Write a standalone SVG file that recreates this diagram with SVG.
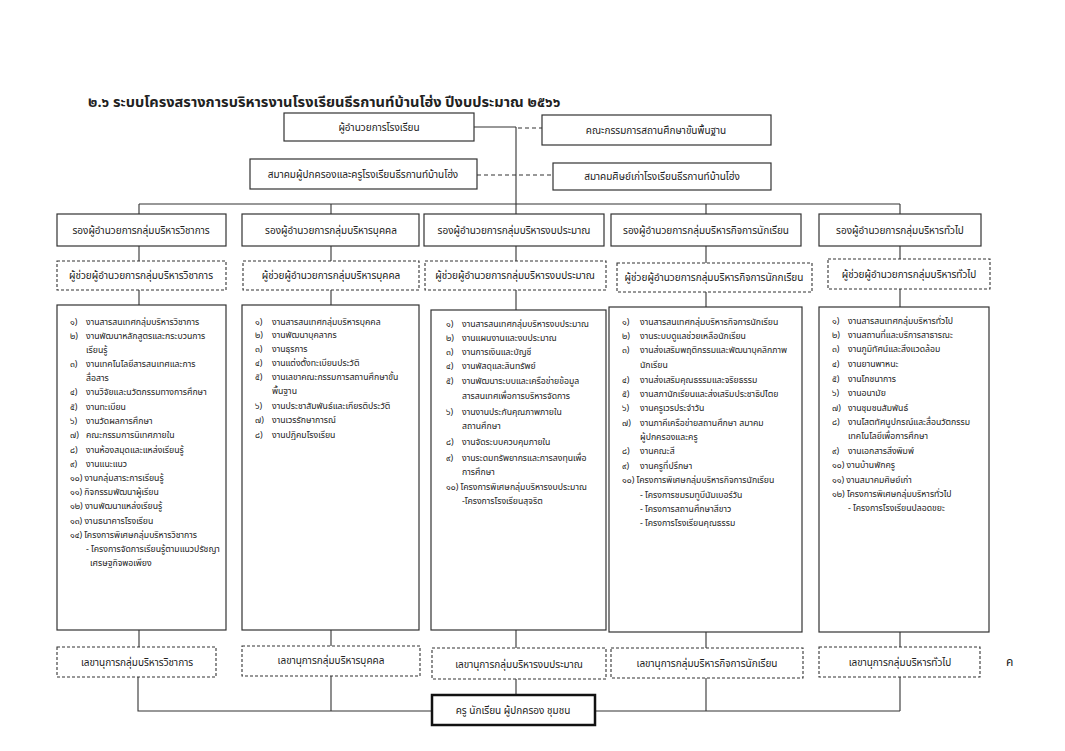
<svg xmlns="http://www.w3.org/2000/svg" width="1065" height="751" viewBox="0 0 1065 751">
<style>
text{font-family:"Noto Sans Thai","DejaVu Sans","Noto Sans",sans-serif;fill:#222}
.box{fill:#fff;stroke:#333;stroke-width:1.2}
.dbox{fill:#fff;stroke:#333;stroke-width:1.1;stroke-dasharray:3,2}
.thick{fill:#fff;stroke:#111;stroke-width:2.5}
.h{font-size:10px;text-anchor:middle}
.l{font-size:8.7px}
.ln{stroke:#333;stroke-width:1.1;fill:none}
.dl{stroke:#333;stroke-width:1.1;fill:none;stroke-dasharray:4,3}
</style>
<rect width="1065" height="751" fill="#fff"/>
<text x="88" y="107" style="font-size:14.6px;font-weight:bold">๒.๖ ระบบโครงสรางการบริหารงานโรงเรียนธีรกานท์บ้านโฮ่ง ปีงบประมาณ ๒๕๖๖</text>

<g id="connectors">
<polyline class="ln" points="474,127 516,127"/>
<line class="dl" x1="518" y1="128" x2="542" y2="128"/>
<line class="dl" x1="477" y1="175" x2="553" y2="175"/>
<line class="ln" x1="516" y1="127" x2="516" y2="204"/>
<line class="ln" x1="139" y1="204" x2="900" y2="204"/>
<path class="ln" d="M139,204V214M331,204V214M516,204V214M706,204V214M900,204V214"/>
<path class="ln" d="M139,246V261M139,290V305M139,630V647"/>
<path class="ln" d="M331,246V261M331,290V305M331,630V646"/>
<path class="ln" d="M516,246V261M516,290V310M516,630V648"/>
<path class="ln" d="M706,246V263M706,292V307M706,632V648"/>
<path class="ln" d="M900,246V259M900,289V307M900,632V647"/>
<path class="ln" d="M138,677V711H432M331,676V711M516,679V695M595,711H900M706,678V711M900,677V711"/>
</g>

<g id="director"><rect class="box" x="284" y="113" width="190" height="28"/><text class="h" x="379" y="131">ผู้อำนวยการโรงเรียน</text></g>
<g id="board"><rect class="box" x="542" y="115" width="229" height="30"/><text class="h" x="656" y="134">คณะกรรมการสถานศึกษาขั้นพื้นฐาน</text></g>
<g id="pta"><rect class="box" x="250" y="159" width="227" height="30"/><text class="h" x="363" y="178">สมาคมผู้ปกครองและครูโรงเรียนธีรกานท์บ้านโฮ่ง</text></g>
<g id="alumni"><rect class="box" x="553" y="163" width="218" height="27"/><text class="h" x="662" y="180">สมาคมศิษย์เก่าโรงเรียนธีรกานท์บ้านโฮ่ง</text></g>

<g id="c1-head"><rect class="box" x="57" y="214" width="169" height="32"/><text class="h" x="141" y="234">รองผู้อำนวยการกลุ่มบริหารวิชาการ</text></g>
<g id="c2-head"><rect class="box" x="242" y="214" width="177" height="32"/><text class="h" x="331" y="234">รองผู้อำนวยการกลุ่มบริหารบุคคล</text></g>
<g id="c3-head"><rect class="box" x="424" y="214" width="180" height="32"/><text class="h" x="514" y="234">รองผู้อำนวยการกลุ่มบริหารงบประมาณ</text></g>
<g id="c4-head"><rect class="box" x="611" y="214" width="190" height="32"/><text class="h" x="706" y="234">รองผู้อำนวยการกลุ่มบริหารกิจการนักเรียน</text></g>
<g id="c5-head"><rect class="box" x="819" y="214" width="162" height="32"/><text class="h" x="900" y="234">รองผู้อำนวยการกลุ่มบริหารทั่วไป</text></g>

<g id="c1-asst"><rect class="dbox" x="57" y="261" width="169" height="29"/><text class="h" x="141" y="279">ผู้ช่วยผู้อำนวยการกลุ่มบริหารวิชาการ</text></g>
<g id="c2-asst"><rect class="dbox" x="243" y="261" width="176" height="29"/><text class="h" x="331" y="279">ผู้ช่วยผู้อำนวยการกลุ่มบริหารบุคคล</text></g>
<g id="c3-asst"><rect class="dbox" x="425" y="261" width="181" height="29"/><text class="h" x="515" y="279">ผู้ช่วยผู้อำนวยการกลุ่มบริหารงบประมาณ</text></g>
<g id="c4-asst"><rect class="dbox" x="617" y="263" width="195" height="29"/><text class="h" x="714" y="281">ผู้ช่วยผู้อำนวยการกลุ่มบริหารกิจการนักกเรียน</text></g>
<g id="c5-asst"><rect class="dbox" x="828" y="259" width="162" height="30"/><text class="h" x="909" y="278">ผู้ช่วยผู้อำนวยการกลุ่มบริหารทั่วไป</text></g>

<g id="c1-list"><rect class="box" x="57" y="305" width="169" height="325"/>
<g class="l">
<text x="70" y="325">๑)</text><text x="86" y="325">งานสารสนเทศกลุ่มบริหารวิชาการ</text>
<text x="70" y="339">๒)</text><text x="86" y="339">งานพัฒนาหลักสูตรและกระบวนการ</text>
<text x="86" y="353">เรียนรู้</text>
<text x="70" y="367">๓)</text><text x="86" y="367">งานเทคโนโลยีสารสนเทศและการ</text>
<text x="86" y="381">สื่อสาร</text>
<text x="70" y="395">๔)</text><text x="86" y="395">งานวิจัยและนวัตกรรมทางการศึกษา</text>
<text x="70" y="410">๕)</text><text x="86" y="410">งานทะเบียน</text>
<text x="70" y="424">๖)</text><text x="86" y="424">งานวัดผลการศึกษา</text>
<text x="70" y="438">๗)</text><text x="86" y="438">คณะกรรมการนิเทศภายใน</text>
<text x="70" y="453">๘)</text><text x="86" y="453">งานห้องสมุดและแหล่งเรียนรู้</text>
<text x="70" y="467">๙)</text><text x="86" y="467">งานแนะแนว</text>
<text x="70" y="481">๑๐) งานกลุ่มสาระการเรียนรู้</text>
<text x="70" y="495">๑๑) กิจกรรมพัฒนาผู้เรียน</text>
<text x="70" y="509">๑๒) งานพัฒนาแหล่งเรียนรู้</text>
<text x="70" y="524">๑๓) งานธนาคารโรงเรียน</text>
<text x="70" y="538">๑๔) โครงการพิเศษกลุ่มบริหารวิชาการ</text>
<text x="86" y="552">- โครงการจัดการเรียนรู้ตามแนวปรัชญา</text>
<text x="90" y="566">เศรษฐกิจพอเพียง</text>
</g></g>

<g id="c2-list"><rect class="box" x="242" y="305" width="177" height="325"/>
<g class="l">
<text x="255" y="325">๑)</text><text x="272" y="325">งานสารสนเทศกลุ่มบริหารบุคคล</text>
<text x="255" y="338">๒)</text><text x="272" y="338">งานพัฒนาบุคลากร</text>
<text x="255" y="352">๓)</text><text x="272" y="352">งานธุรการ</text>
<text x="255" y="366">๔)</text><text x="272" y="366">งานแต่งตั้งทะเบียนประวัติ</text>
<text x="255" y="380">๕)</text><text x="272" y="380">งานเลขาคณะกรรมการสถานศึกษาขั้น</text>
<text x="272" y="394">พื้นฐาน</text>
<text x="255" y="409">๖)</text><text x="272" y="409">งานประชาสัมพันธ์และเกียรติประวัติ</text>
<text x="255" y="423">๗)</text><text x="272" y="423">งานเวรรักษาการณ์</text>
<text x="255" y="438">๘)</text><text x="272" y="438">งานปฏิคมโรงเรียน</text>
</g></g>

<g id="c3-list"><rect class="box" x="431" y="310" width="175" height="320"/>
<g class="l">
<text x="446" y="327">๑)</text><text x="462" y="327">งานสารสนเทศกลุ่มบริหารงบประมาณ</text>
<text x="446" y="341">๒)</text><text x="462" y="341">งานแผนงานและงบประมาณ</text>
<text x="446" y="355">๓)</text><text x="462" y="355">งานการเงินและบัญชี</text>
<text x="446" y="369">๔)</text><text x="462" y="369">งานพัสดุและสินทรัพย์</text>
<text x="446" y="384">๕)</text><text x="462" y="384">งานพัฒนาระบบและเครือข่ายข้อมูล</text>
<text x="462" y="399">สารสนเทศเพื่อการบริหารจัดการ</text>
<text x="446" y="415">๖)</text><text x="462" y="415">งานงานประกันคุณภาพภายใน</text>
<text x="462" y="429">สถานศึกษา</text>
<text x="446" y="445">๘)</text><text x="462" y="445">งานจัดระบบควบคุมภายใน</text>
<text x="446" y="461">๙)</text><text x="462" y="461">งานระดมทรัพยากรและการลงทุนเพื่อ</text>
<text x="462" y="475">การศึกษา</text>
<text x="446" y="490">๑๐) โครงการพิเศษกลุ่มบริหารงบประมาณ</text>
<text x="462" y="504">-โครงการโรงเรียนสุจริต</text>
</g></g>

<g id="c4-list"><rect class="box" x="609" y="307" width="193" height="325"/>
<g class="l">
<text x="622" y="325">๑)</text><text x="640" y="325">งานสารสนเทศกลุ่มบริหารกิจการนักเรียน</text>
<text x="622" y="339">๒)</text><text x="640" y="339">งานระบบดูแลช่วยเหลือนักเรียน</text>
<text x="622" y="353">๓)</text><text x="640" y="353">งานส่งเสริมพฤติกรรมและพัฒนาบุคลิกภาพ</text>
<text x="640" y="368">นักเรียน</text>
<text x="622" y="383">๔)</text><text x="640" y="383">งานส่งเสริมคุณธรรมและจริยธรรม</text>
<text x="622" y="397">๕)</text><text x="640" y="397">งานสภานักเรียนและส่งเสริมประชาธิปไตย</text>
<text x="622" y="411">๖)</text><text x="640" y="411">งานครูเวรประจำวัน</text>
<text x="622" y="426">๗)</text><text x="640" y="426">งานภาคีเครือข่ายสถานศึกษา สมาคม</text>
<text x="640" y="440">ผู้ปกครองและครู</text>
<text x="622" y="454">๘)</text><text x="640" y="454">งานคณะสี</text>
<text x="622" y="469">๙)</text><text x="640" y="469">งานครูที่ปรึกษา</text>
<text x="622" y="483">๑๐) โครงการพิเศษกลุ่มบริหารกิจการนักเรียน</text>
<text x="640" y="498">- โครงการชมรมทูบีนัมเบอร์วัน</text>
<text x="640" y="512">- โครงการสถานศึกษาสีขาว</text>
<text x="640" y="526">- โครงการโรงเรียนคุณธรรม</text>
</g></g>

<g id="c5-list"><rect class="box" x="819" y="307" width="170" height="325"/>
<g class="l">
<text x="832" y="324">๑)</text><text x="848" y="324">งานสารสนเทศกลุ่มบริหารทั่วไป</text>
<text x="832" y="338">๒)</text><text x="848" y="338">งานสถานที่และบริการสาธารณะ</text>
<text x="832" y="352">๓)</text><text x="848" y="352">งานภูมิทัศน์และสิ่งแวดล้อม</text>
<text x="832" y="367">๔)</text><text x="848" y="367">งานยานพาหนะ</text>
<text x="832" y="382">๕)</text><text x="848" y="382">งานโภชนาการ</text>
<text x="832" y="396">๖)</text><text x="848" y="396">งานอนามัย</text>
<text x="832" y="411">๗)</text><text x="848" y="411">งานชุมชนสัมพันธ์</text>
<text x="832" y="425">๘)</text><text x="848" y="425">งานโสตทัศนูปกรณ์และสื่อนวัตกรรม</text>
<text x="848" y="439">เทคโนโลยีเพื่อการศึกษา</text>
<text x="832" y="454">๙)</text><text x="848" y="454">งานเอกสารสิ่งพิมพ์</text>
<text x="832" y="468">๑๐) งานบ้านพักครู</text>
<text x="832" y="483">๑๑) งานสมาคมศิษย์เก่า</text>
<text x="832" y="497">๑๒) โครงการพิเศษกลุ่มบริหารทั่วไป</text>
<text x="848" y="511">- โครงการโรงเรียนปลอดขยะ</text>
</g></g>

<g id="c1-sec"><rect class="dbox" x="57" y="647" width="159" height="30"/><text class="h" x="137" y="666">เลขานุการกลุ่มบริหารวิชาการ</text></g>
<g id="c2-sec"><rect class="dbox" x="242" y="646" width="178" height="30"/><text class="h" x="331" y="664">เลขานุการกลุ่มบริหารบุคคล</text></g>
<g id="c3-sec"><rect class="dbox" x="432" y="648" width="174" height="31"/><text class="h" x="519" y="668">เลขานุการกลุ่มบริหารงบประมาณ</text></g>
<g id="c4-sec"><rect class="dbox" x="611" y="648" width="192" height="30"/><text class="h" x="707" y="667">เลขานุการกลุ่มบริหารกิจการนักเรียน</text></g>
<g id="c5-sec"><rect class="dbox" x="819" y="647" width="161" height="30"/><text class="h" x="900" y="666">เลขานุการกลุ่มบริหารทั่วไป</text></g>

<g id="community"><rect class="thick" x="432" y="695" width="163" height="30"/><text class="h" x="513" y="714">ครู นักเรียน ผู้ปกครอง ชุมชน</text></g>

<text x="1006" y="666" style="font-size:12px">ค</text>
</svg>
